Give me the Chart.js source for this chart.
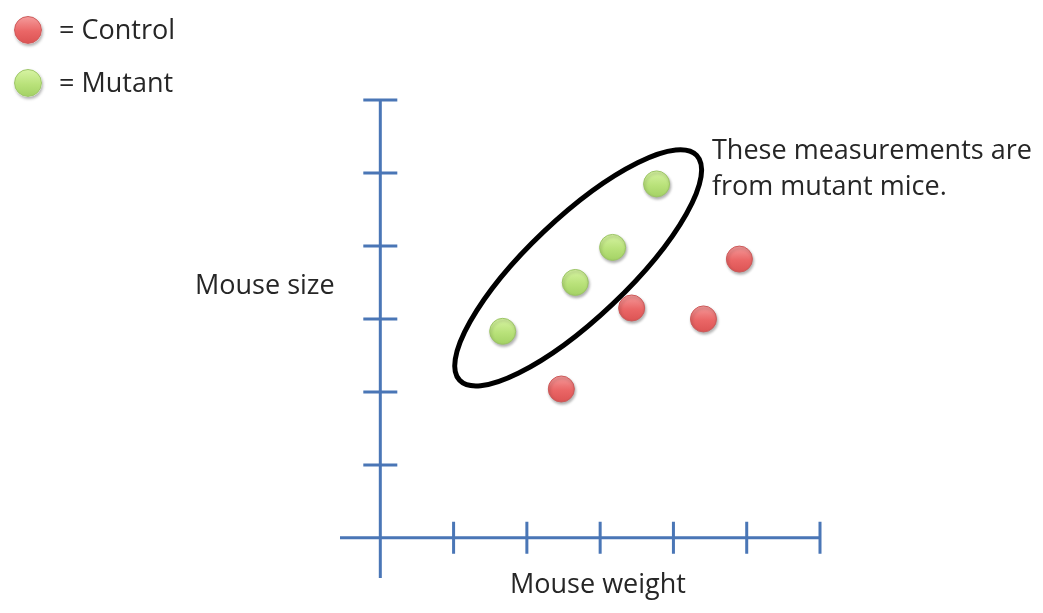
<!DOCTYPE html>
<html>
<head>
<meta charset="utf-8">
<script src="https://cdn.jsdelivr.net/npm/chart.js@4"></script>
<style>
  html, body { margin: 0; padding: 0; background: #fff; }
  #wrap { position: relative; width: 1043px; height: 613px; overflow: hidden; }
  canvas { position: absolute; left: 0; top: 0; }
  .txt { position: absolute; font-family: "Open Sans", sans-serif; font-size: 27px; color: #262626; white-space: nowrap; line-height: 1; }
  .dot { position: absolute; width: 26px; height: 26px; border-radius: 50%; box-shadow: 1px 2px 3px rgba(0,0,0,0.3); }
  .dot.red { background: linear-gradient(#f49a9a, #ea6666 55%, #dc5454); border: 1px solid #cc5a5a; }
  .dot.green { background: linear-gradient(#d6f3a2, #b9e27a 55%, #a4d265); border: 1px solid #9cc566; }
</style>
</head>
<body>
<div id="wrap">
  <canvas id="chart" width="1043" height="613"></canvas>
  <div class="dot red" style="left:14px; top:16px;"></div>
  <div class="txt" style="left:59px; top:15px;">= Control</div>
  <div class="dot green" style="left:14px; top:69px;"></div>
  <div class="txt" style="left:59px; top:68px;">= Mutant</div>
  <div class="txt" style="left:712px; top:135px;">These measurements are</div>
  <div class="txt" style="left:712px; top:171px;">from mutant mice.</div>
  <div class="txt" style="left:195px; top:270px;">Mouse size</div>
  <div class="txt" style="left:510px; top:569px;">Mouse weight</div>
</div>
<script>
// du lieu doc tu hinh
const controlX = [2.47, 3.43, 4.41, 4.90];
const controlY = [2.04, 3.15, 3.00, 3.82];
const mutantX = [1.67, 2.66, 3.17, 3.77];
const mutantY = [2.83, 3.50, 3.98, 4.85];
const tickValues = [1, 2, 3, 4, 5, 6];

// vong elip quanh nhom mutant (don vi du lieu)
const ellipseCenter = [2.70, 3.70];
const ellipseRadii = [2.23, 0.685];
const ellipseAngle = -43.5; // do

const AXIS_COLOR = "#4a76b6";

function pointGradient(top, mid, bottom) {
  return (context) => {
    const chart = context.chart;
    if (!chart.chartArea || !context.parsed) return mid;
    const y = chart.scales.y.getPixelForValue(context.parsed.y);
    const g = chart.ctx.createLinearGradient(0, y - 13, 0, y + 13);
    g.addColorStop(0, top);
    g.addColorStop(0.55, mid);
    g.addColorStop(1, bottom);
    return g;
  };
}

// ve truc + vach chia
const axesPlugin = {
  id: "axes",
  beforeDatasetsDraw(chart) {
    const { ctx, scales: { x, y } } = chart;
    const x0 = x.getPixelForValue(0);
    const y0 = y.getPixelForValue(0);
    ctx.save();
    ctx.strokeStyle = AXIS_COLOR;
    ctx.lineWidth = 3;
    ctx.beginPath();
    ctx.moveTo(x.getPixelForValue(x.min), y0);
    ctx.lineTo(x.getPixelForValue(x.max), y0);
    ctx.moveTo(x0, y.getPixelForValue(y.min));
    ctx.lineTo(x0, y.getPixelForValue(y.max));
    tickValues.forEach(v => {
      const px = x.getPixelForValue(v);
      ctx.moveTo(px, y0 - 16);
      ctx.lineTo(px, y0 + 16);
      const py = y.getPixelForValue(v);
      ctx.moveTo(x0 - 17, py);
      ctx.lineTo(x0 + 17, py);
    });
    ctx.stroke();
    ctx.restore();
  },
  beforeDatasetDraw(chart) {
    const ctx = chart.ctx;
    ctx.save();
    ctx.shadowColor = "rgba(0,0,0,0.3)";
    ctx.shadowBlur = 3;
    ctx.shadowOffsetX = 1;
    ctx.shadowOffsetY = 2;
  },
  afterDatasetDraw(chart) {
    chart.ctx.restore();
  },
  afterDraw(chart) {
    const { ctx, scales: { x, y } } = chart;
    const cx = x.getPixelForValue(ellipseCenter[0]);
    const cy = y.getPixelForValue(ellipseCenter[1]);
    const rx = Math.abs(x.getPixelForValue(ellipseRadii[0]) - x.getPixelForValue(0));
    const ry = Math.abs(y.getPixelForValue(ellipseRadii[1]) - y.getPixelForValue(0));
    ctx.save();
    ctx.strokeStyle = "#000";
    ctx.lineWidth = 5;
    ctx.beginPath();
    ctx.ellipse(cx, cy, rx, ry, ellipseAngle * Math.PI / 180, 0, Math.PI * 2);
    ctx.stroke();
    ctx.restore();
  }
};

const chart = new Chart(document.getElementById("chart"), {
  type: "scatter",
  data: {
    datasets: [
      {
        label: "Control",
        data: controlX.map((v, i) => ({ x: v, y: controlY[i] })),
        backgroundColor: pointGradient("#f49a9a", "#ea6666", "#dc5454"),
        borderColor: "#cc5a5a",
        borderWidth: 1,
        pointRadius: 13,
        pointHoverRadius: 13,
      },
      {
        label: "Mutant",
        data: mutantX.map((v, i) => ({ x: v, y: mutantY[i] })),
        backgroundColor: pointGradient("#d6f3a2", "#b9e27a", "#a4d265"),
        borderColor: "#9cc566",
        borderWidth: 1,
        pointRadius: 13,
        pointHoverRadius: 13,
      },
    ],
  },
  options: {
    responsive: false,
    animation: false,
    layout: { padding: { left: 340, right: 223, top: 100, bottom: 35 } },
    plugins: {
      legend: { display: false },
      tooltip: { enabled: false },
    },
    scales: {
      x: { type: "linear", min: -0.55, max: 6, display: false },
      y: { type: "linear", min: -0.55, max: 6, display: false },
    },
  },
  plugins: [axesPlugin],
});
</script>
</body>
</html>
